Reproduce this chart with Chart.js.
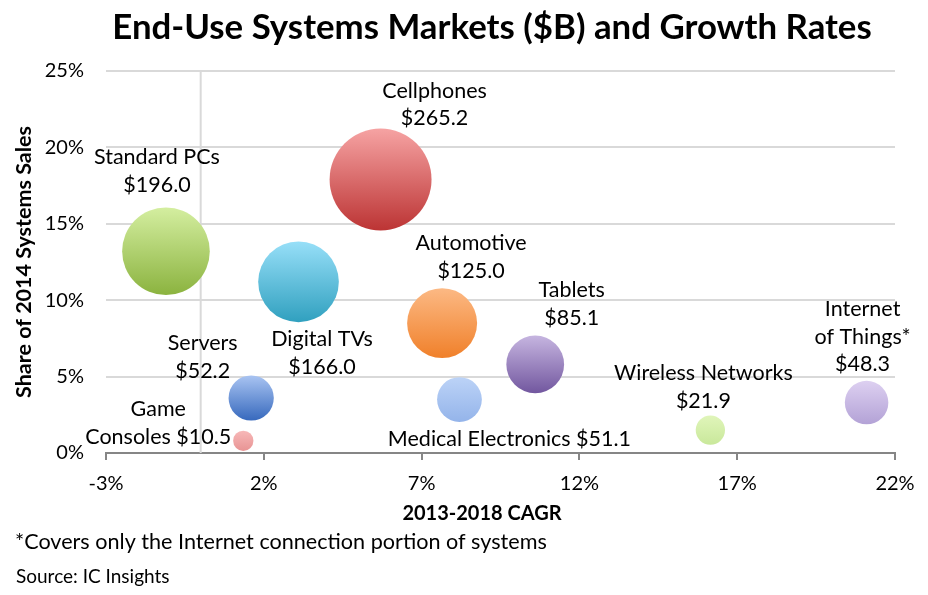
<!DOCTYPE html>
<html>
<head>
<meta charset="utf-8">
<script src="https://cdn.jsdelivr.net/npm/chart.js@4.4.1/dist/chart.umd.min.js"></script>
<style>
  html, body { margin: 0; padding: 0; background: #ffffff; }
  #wrap { width: 928px; height: 595px; position: relative; }
</style>
</head>
<body>
<div id="wrap"><canvas id="c" width="928" height="595"></canvas></div>
<script>
// ---- Data ----
const categories = ['Standard PCs', 'Cellphones', 'Digital TVs', 'Automotive', 'Tablets',
  'Servers', 'Game Consoles', 'Medical Electronics', 'Wireless Networks', 'Internet of Things*'];
const cagr  = [-1.1, 5.7, 3.1, 7.65, 10.6, 1.6, 1.35, 8.2, 16.15, 21.1];   // 2013-2018 CAGR (%)
const share = [13.2, 17.9, 11.2, 8.5, 5.8, 3.6, 0.8, 3.5, 1.5, 3.3];       // share of 2014 systems sales (%)
const sales = [196.0, 265.2, 166.0, 125.0, 85.1, 52.2, 10.5, 51.1, 21.9, 48.3]; // market ($B)
const xTicks = [-3, 2, 7, 12, 17, 22];
const yTicks = [0, 5, 10, 15, 20, 25];

// label line templates ({n}=name, {v}=value)
const labelTemplates = ['{n}\n{v}', '{n}\n{v}', '{n}\n{v}', '{n}\n{v}', '{n}\n{v}',
  '{n}\n{v}', 'Game\nConsoles {v}', '{n} {v}', '{n}\n{v}', 'Internet\nof Things*\n{v}'];

// ---- Styles ----
const gradTop    = ['#d4eea0', '#f6a3a3', '#97dff8', '#fcb984', '#c6b5e0', '#a9c4f2', '#f7b8b8', '#bcd3f7', '#e0f5ba', '#ddd0f1'];
const gradBottom = ['#8bb33f', '#bc3434', '#30a0bf', '#f0802a', '#72579f', '#3769bd', '#e89494', '#94b4ea', '#c9e89b', '#b3a2d6'];
const labelOffsets = [[-9,-80],[54,-75],[23.5,71],[29,-66],[36.5,-60],[-48.5,-41],[-85,-17.5],[50,39.5],[-7,-43],[-4,-66]];
const RADIUS_K = 3.13;
const FONT = 'Lato, "Open Sans", sans-serif';

const points = categories.map((c, i) => ({ x: cagr[i], y: share[i] }));

function bubbleRadius(i) { return RADIUS_K * Math.sqrt(sales[i]); }

const overlay = {
  id: 'overlay',
  beforeDatasetsDraw(chart) {
    const { ctx, chartArea, scales } = chart;
    const x0 = scales.x.getPixelForValue(0);
    ctx.save();
    ctx.strokeStyle = '#d9d9d9';
    ctx.lineWidth = 2;
    ctx.beginPath();
    ctx.moveTo(x0, chartArea.top);
    ctx.lineTo(x0, chartArea.bottom);
    ctx.stroke();
    ctx.restore();
  },
  afterDatasetsDraw(chart) {
    const { ctx } = chart;
    const meta = chart.getDatasetMeta(0);
    ctx.save();
    ctx.fillStyle = '#000000';
    ctx.font = '21.5px ' + FONT;
    ctx.textAlign = 'center';
    ctx.textBaseline = 'middle';
    const lh = 27.7;
    meta.data.forEach((el, i) => {
      const txt = labelTemplates[i].replace('{n}', categories[i]).replace('{v}', '$' + sales[i].toFixed(1));
      const lines = txt.split('\n');
      const [dx, dy] = labelOffsets[i];
      lines.forEach((ln, j) => {
        ctx.fillText(ln, el.x + dx, el.y + dy + (j - (lines.length - 1) / 2) * lh);
      });
    });
    ctx.restore();
  },
  afterDraw(chart) {
    const { ctx } = chart;
    ctx.save();
    ctx.fillStyle = '#000000';
    ctx.textBaseline = 'middle';
    ctx.textAlign = 'center';
    ctx.font = 'bold 34.8px ' + FONT;
    ctx.fillText('End-Use Systems Markets ($B) and Growth Rates', 492, 28);
    ctx.font = 'bold 20px ' + FONT;
    ctx.fillText('2013-2018 CAGR', 482, 514);
    ctx.textAlign = 'left';
    ctx.font = '21.6px ' + FONT;
    ctx.fillText('*Covers only the Internet connection portion of systems', 15, 542);
    ctx.font = '19px ' + FONT;
    ctx.fillText('Source: IC Insights', 16, 577);
    ctx.restore();
  }
};

new Chart(document.getElementById('c'), {
  type: 'bubble',
  data: {
    datasets: [{
      data: points,
      radius: (c) => bubbleRadius(c.dataIndex),
      borderWidth: 0,
      borderColor: 'rgba(0,0,0,0)',
      backgroundColor: (c) => {
        const chart = c.chart;
        const sy = chart.scales.y;
        const i = c.dataIndex;
        if (!sy || sy.top === undefined) return gradTop[i];
        const py = sy.getPixelForValue(share[i]);
        const r = bubbleRadius(i);
        const g = chart.ctx.createLinearGradient(0, py - r, 0, py + r);
        g.addColorStop(0, gradTop[i]);
        g.addColorStop(1, gradBottom[i]);
        return g;
      },
      clip: false
    }]
  },
  options: {
    responsive: false,
    animation: false,
    events: [],
    layout: { autoPadding: false, padding: { left: 0, right: 33, top: 71, bottom: 0 } },
    plugins: { legend: { display: false }, tooltip: { enabled: false }, title: { display: false } },
    scales: {
      x: {
        type: 'linear', min: -3, max: 22,
        afterBuildTicks: (s) => { s.ticks = xTicks.map(v => ({ value: v })); },
        afterFit: (s) => { s.height = 142; s.paddingLeft = 0; s.paddingRight = 0; },
        grid: { display: true, drawOnChartArea: false, drawTicks: true, tickLength: 7, color: '#868686', lineWidth: 2 },
        border: { display: true, color: '#868686', width: 2 },
        ticks: { color: '#000000', font: { family: FONT, size: 20 }, padding: 12, callback: (v) => v + '%', maxRotation: 0 }
      },
      y: {
        type: 'linear', min: 0, max: 25,
        afterBuildTicks: (s) => { s.ticks = yTicks.map(v => ({ value: v })); },
        afterFit: (s) => { s.width = 106; s.paddingTop = 0; s.paddingBottom = 0; },
        grid: { color: '#d9d9d9', lineWidth: 2, drawTicks: false },
        border: { display: false },
        ticks: { color: '#000000', font: { family: FONT, size: 20 }, padding: 22, callback: (v) => v + '%' },
        title: { display: true, text: 'Share of 2014 Systems Sales', color: '#000000', font: { family: FONT, size: 21.5, weight: 'bold' }, padding: { top: 11, bottom: 0 } }
      }
    }
  },
  plugins: [overlay]
});
</script>
</body>
</html>
